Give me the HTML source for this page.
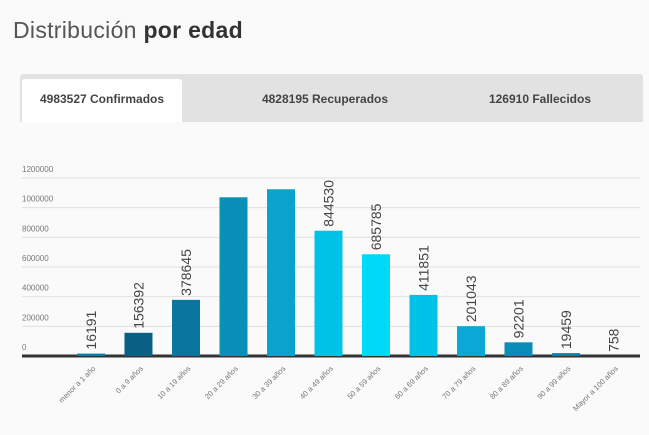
<!DOCTYPE html>
<html><head><meta charset="utf-8"><style>
body{margin:0;background:#fafafa;font-family:"Liberation Sans",sans-serif;width:649px;height:435px;overflow:hidden;position:relative}
#title{position:absolute;left:13px;top:17px;font-size:23px;color:#555;letter-spacing:0.3px}
#title b{color:#333}
#tabs{position:absolute;left:20px;top:74px;width:623px;height:48px;background:#e2e2e2;border-radius:3px 3px 0 0}
.tab{position:absolute;top:5px;height:43px;line-height:40px;font-size:12px;font-weight:bold;color:#444;text-align:center}
#chart{position:absolute;left:0;top:0}
</style></head><body>
<div id="title">Distribución <b>por edad</b></div>
<div id="tabs">
<div class="tab" style="left:2px;width:160px;background:#fff;border-radius:3px 3px 0 0">4983527 Confirmados</div>
<div class="tab" style="left:200px;width:210px">4828195 Recuperados</div>
<div class="tab" style="left:420px;width:200px">126910 Fallecidos</div>
</div>
<svg id="chart" width="649" height="435"></svg>
<script>
const categories=["menor a 1 año","0 a 9 años","10 a 19 años","20 a 29 años","30 a 39 años","40 a 49 años","50 a 59 años","60 a 69 años","70 a 79 años","80 a 89 años","90 a 99 años","Mayor a 100 años"];
const values=[16191,156392,378645,1070000,1124000,844530,685785,411851,201043,92201,19459,758];
const showLabel=[true,true,true,false,false,true,true,true,true,true,true,true];
const colors=["#0b7ea6","#0a5f84","#0a76a0","#0a8fb8","#0aa3cc","#00c2e6","#00d8f8","#00c2e8","#0aa8d4","#0a8cb8","#0a80ac","#0a80ac"];
const yTicks=[0,200000,400000,600000,800000,1000000,1200000];
const NS="http://www.w3.org/2000/svg",svg=document.getElementById('chart');
const y0=356,y1=178,yMax=1200000;
const y=v=>y0-(v/yMax)*(y0-y1);
const x=i=>91+i*47.5;
function mk(t,a,p){const e=document.createElementNS(NS,t);for(const k in a)e.setAttribute(k,a[k]);(p||svg).appendChild(e);return e;}
yTicks.forEach(t=>{
 const l=mk('line',{x1:22,x2:640,y1:y(t),y2:y(t),stroke:t?'#e0e0e0':'#333','stroke-width':t?1:3});
 
 
 const tx=mk('text',{x:22,y:y(t)-6,'font-size':8,fill:'#777'});
 tx.textContent=t;
 
 
});
categories.forEach((c,i)=>{
 const h=y0-y(values[i]);
 if(h>=2){
  const r=mk('rect',{x:x(i)-14,y:y(values[i]),width:28,height:h,fill:colors[i]});
  
  
 }
 if(showLabel[i]){
  const lx=x(i)+5,ly=y(values[i])-4;
  const t=mk('text',{x:lx,y:ly,'font-size':14,fill:'#444',transform:`rotate(-90 ${lx} ${ly})`});
  t.textContent=values[i];
  
  
 }
 const cx=x(i)+5,cy=369;
 const t2=mk('text',{x:cx,y:cy,'font-size':7.5,fill:'#777','text-anchor':'end',transform:`rotate(-45 ${cx} ${cy})`});
 t2.textContent=c;
 
 
});
</script>
</body></html>
